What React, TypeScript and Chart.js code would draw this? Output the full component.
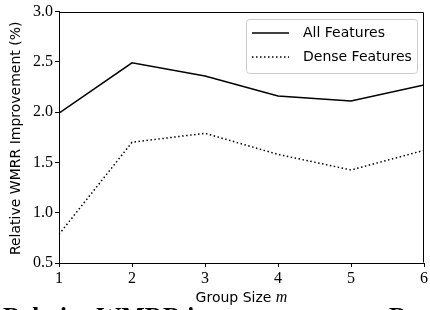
import React, { useEffect, useRef } from "react";
import { Chart, registerables } from "chart.js";

Chart.register(...registerables);

const groupSizes = [1, 2, 3, 4, 5, 6];
const allFeatures = [1.99, 2.49, 2.36, 2.16, 2.11, 2.27];
const denseFeatures = [0.785, 1.7, 1.79, 1.58, 1.425, 1.62];
const seriesLabels = ["All Features", "Dense Features"];
const yTitle = "Relative WMRR Improvement (%)";
const xTitlePlain = "Group Size ";
const xTitleMath = "m";
const caption = "Relative WMRR improvement over Re";

const SANS = '"DejaVu Sans", sans-serif';
const SERIF = '"Liberation Serif", serif';

const decor = {
  id: "decor",
  afterDraw(chart: any) {
    const { ctx, chartArea: a } = chart;
    ctx.save();
    // top and right spines
    ctx.strokeStyle = "#000";
    ctx.lineWidth = 1;
    ctx.beginPath();
    const L = Math.round(a.left) + 0.5;
    const T = Math.round(a.top) + 0.5;
    const R = Math.round(a.right) - 0.5;
    const B = Math.round(a.bottom) - 0.5;
    ctx.moveTo(L, T);
    ctx.lineTo(R, T);
    ctx.lineTo(R, B);
    ctx.stroke();

    // y title
    ctx.fillStyle = "#000";
    ctx.font = `14px ${SANS}`;
    ctx.save();
    ctx.translate(16.5, (a.top + a.bottom) / 2 + 1);
    ctx.rotate(-Math.PI / 2);
    ctx.textAlign = "center";
    ctx.textBaseline = "middle";
    ctx.fillText(yTitle, 0, 0);
    ctx.restore();

    // x title with italic math m
    ctx.textBaseline = "alphabetic";
    ctx.textAlign = "left";
    ctx.font = `14px ${SANS}`;
    const w1 = ctx.measureText(xTitlePlain).width;
    ctx.font = `italic 16px ${SERIF}`;
    const w2 = ctx.measureText(xTitleMath).width;
    const cx = (a.left + a.right) / 2;
    const sx = cx - (w1 + w2) / 2;
    ctx.font = `14px ${SANS}`;
    ctx.fillText(xTitlePlain, sx, 302);
    ctx.font = `italic 16px ${SERIF}`;
    ctx.fillText(xTitleMath, sx + w1, 302);

    // legend
    const lx = 246.5, ly = 19.5, lw = 171, lh = 54;
    ctx.beginPath();
    (ctx as any).roundRect(lx, ly, lw, lh, 3);
    ctx.fillStyle = "rgba(255,255,255,0.8)";
    ctx.fill();
    ctx.strokeStyle = "#cccccc";
    ctx.lineWidth = 1;
    ctx.stroke();

    const rows = [33, 57];
    const dashes = [[], [1.5, 2.5]];
    rows.forEach((y, i) => {
      ctx.beginPath();
      ctx.strokeStyle = "#000";
      ctx.lineWidth = 1.5;
      ctx.setLineDash(dashes[i]);
      ctx.moveTo(252, y);
      ctx.lineTo(289, y);
      ctx.stroke();
      ctx.setLineDash([]);
      ctx.fillStyle = "#000";
      ctx.font = `14px ${SANS}`;
      ctx.textBaseline = "middle";
      ctx.fillText(seriesLabels[i], 303, y);
    });
    ctx.restore();
  },
};

export default function App() {
  const ref = useRef<HTMLCanvasElement | null>(null);

  useEffect(() => {
    if (!ref.current) return;
    const chart = new Chart(ref.current, {
      type: "line",
      data: {
        datasets: [
          {
            label: seriesLabels[0],
            data: groupSizes.map((x, i) => ({ x, y: allFeatures[i] })),
            borderColor: "#000",
            borderWidth: 1.5,
            pointRadius: 0,
            tension: 0,
            fill: false,
          },
          {
            label: seriesLabels[1],
            data: groupSizes.map((x, i) => ({ x, y: denseFeatures[i] })),
            borderColor: "#000",
            borderWidth: 1.5,
            borderDash: [1.5, 2.5],
            pointRadius: 0,
            tension: 0,
            fill: false,
          },
        ],
      },
      options: {
        animation: false,
        responsive: false,
        devicePixelRatio: 1,
        layout: { padding: { left: 0, top: 9, right: 4, bottom: 0 } },
        plugins: {
          legend: { display: false },
          tooltip: { enabled: false },
        },
        scales: {
          x: {
            type: "linear",
            min: 1,
            max: 6,
            afterFit: (s: any) => {
              s.height = 47;
            },
            ticks: {
              stepSize: 1,
              color: "#000",
              font: { family: SERIF, size: 16 },
              padding: 2,
              maxRotation: 0,
            },
            grid: {
              drawOnChartArea: false,
              drawTicks: true,
              tickLength: 4,
              color: "#000",
            },
            border: { color: "#000", width: 1 },
          },
          y: {
            type: "linear",
            min: 0.5,
            max: 3.0,
            afterFit: (s: any) => {
              s.width = 59;
            },
            ticks: {
              stepSize: 0.5,
              color: "#000",
              font: { family: SERIF, size: 16 },
              padding: 2,
              callback: (v: any) => Number(v).toFixed(1),
            },
            grid: {
              drawOnChartArea: false,
              drawTicks: true,
              tickLength: 4,
              color: "#000",
            },
            border: { color: "#000", width: 1 },
          },
        },
      },
      plugins: [decor],
    });
    return () => chart.destroy();
  }, []);

  return (
    <div
      style={{
        position: "fixed",
        left: 0,
        top: 0,
        width: 430,
        height: 310,
        overflow: "hidden",
        background: "#fff",
      }}
    >
      <canvas ref={ref} width={430} height={310} style={{ display: "block" }} />
      <div
        style={{
          position: "absolute",
          left: 3,
          top: 304,
          whiteSpace: "nowrap",
          fontFamily: SERIF,
          fontWeight: "bold",
          fontSize: 25,
          lineHeight: "25px",
          color: "#000",
        }}
      >
        {caption}
      </div>
    </div>
  );
}
